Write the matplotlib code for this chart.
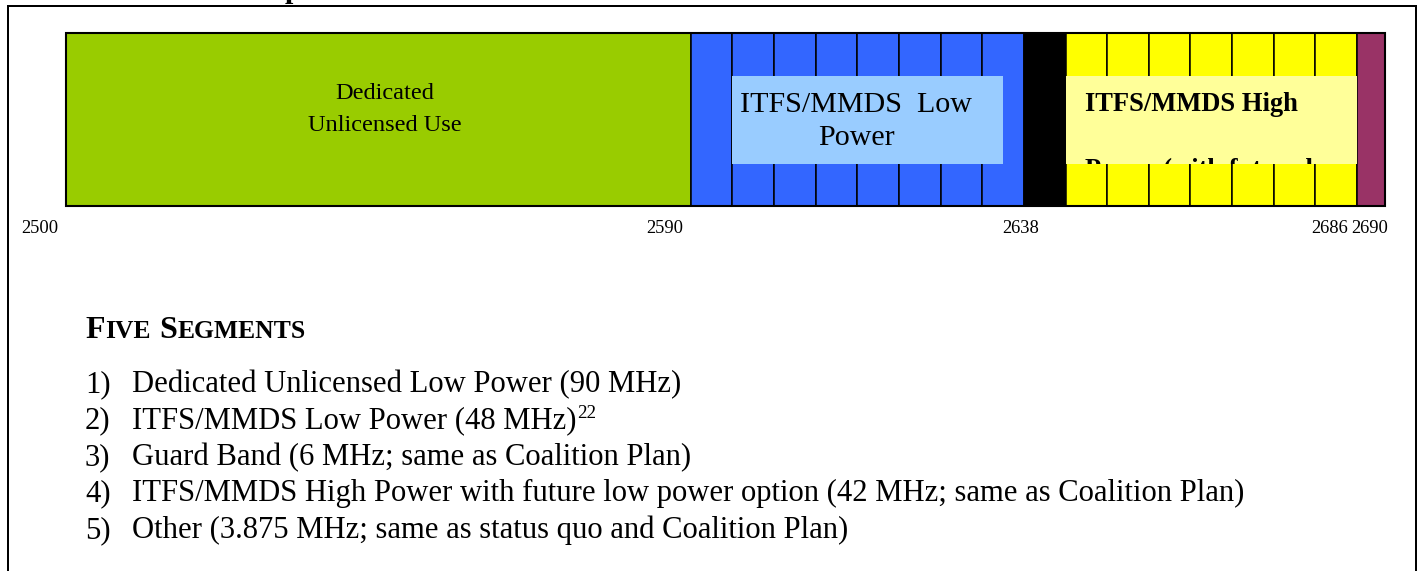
"""Band plan sketch: five spectrum segments between 2500 and 2690 MHz."""

import numpy as np
import matplotlib
matplotlib.use("Agg")
import matplotlib.pyplot as plt
from matplotlib.patches import Rectangle

W, H = 1424, 571
PT = 0.72  # points per pixel at dpi 100

# Band plan (MHz)
band_edges = [2500, 2590, 2638, 2644, 2686, 2690]
band_colors = ['#99cc00', '#3366ff', '#000000', '#ffff00', '#993366']
channel_mhz = [0, 6, 0, 6, 0]  # 0 = no channel raster drawn

tick_values = [2500, 2590, 2638, 2686, 2690]
tick_shift_px = [-26, -26, -3, -27, -15]

green_label = ['Dedicated', 'Unlicensed Use']
low_label = ['ITFS/MMDS  Low', 'Power']
low_box = (2596, 2635)
high_label = ['ITFS/MMDS High', 'Power (with future low power)']
high_box = (2644, 2686)

heading = [('F', True), ('IVE', False), ('S', True), ('EGMENTS', False)]
items = [
    'Dedicated Unlicensed Low Power (90 MHz)',
    'ITFS/MMDS Low Power (48 MHz)',
    'Guard Band (6 MHz; same as Coalition Plan)',
    'ITFS/MMDS High Power with future low power option (42 MHz; same as Coalition Plan)',
    'Other (3.875 MHz; same as status quo and Coalition Plan)',
]
footnotes = {1: '22'}

plt.rcParams['font.family'] = ['Liberation Serif', 'DejaVu Serif']

fig = plt.figure(figsize=(W / 100, H / 100), dpi=100)
fig.patch.set_facecolor('white')

# full-figure overlay in pixel units (y grows downwards)
page = fig.add_axes([0, 0, 1, 1])
page.set_xlim(0, W)
page.set_ylim(H, 0)
page.set_axis_off()

# band axes: frequency on x, 0..1 on y
bx0, bx1, by0, by1 = 66, 1384.8, 33, 206
ax = fig.add_axes([bx0 / W, 1 - by1 / H, (bx1 - bx0) / W, (by1 - by0) / H])
ax.set_xlim(band_edges[0], band_edges[-1])
ax.set_ylim(0, 1)
ax.set_axis_off()
mhz_px = (bx1 - bx0) / (band_edges[-1] - band_edges[0])

for lo, hi, col, ch in zip(band_edges[:-1], band_edges[1:], band_colors, channel_mhz):
    if ch:
        starts = np.arange(lo, hi, ch)
        ax.bar(starts, 1, width=ch, align='edge', color=col,
               edgecolor='black', linewidth=1.1, zorder=1)
    else:
        ax.bar(lo, 1, width=hi - lo, align='edge', color=col,
               edgecolor='black', linewidth=1.1, zorder=1)
ax.add_patch(Rectangle((band_edges[0], 0), band_edges[-1] - band_edges[0], 1,
                       fill=False, edgecolor='black', linewidth=1.5,
                       clip_on=False, zorder=3))


def frac(ypx):
    return (by1 - ypx) / (by1 - by0)


def freq(xpx):
    return band_edges[0] + (xpx - bx0) / mhz_px


# segment labels
ax.text(freq(385), frac(99), green_label[0], ha='center', va='baseline',
        fontsize=24.4 * PT, zorder=4)
ax.text(freq(385), frac(131), green_label[1], ha='center', va='baseline',
        fontsize=24.4 * PT, zorder=4)

ax.add_patch(Rectangle((low_box[0], frac(164)), low_box[1] - low_box[0],
                       frac(76) - frac(164), facecolor='#99ccff',
                       edgecolor='none', zorder=2))
ax.text(freq(856), frac(111.7), low_label[0], ha='center', va='baseline',
        fontsize=30 * PT, zorder=4)
ax.text(freq(856), frac(145), low_label[1], ha='center', va='baseline',
        fontsize=30 * PT, zorder=4)

hbox = Rectangle((high_box[0], frac(164)), high_box[1] - high_box[0],
                 frac(76) - frac(164), facecolor='#ffff99',
                 edgecolor='none', zorder=2)
ax.add_patch(hbox)
ax.text(freq(1085), frac(110.7), high_label[0], ha='left',
        va='baseline', fontsize=26.5 * PT, fontweight='bold', zorder=4)
t2 = ax.text(freq(1085), frac(177), high_label[1], ha='left',
             va='baseline', fontsize=26.5 * PT, fontweight='bold', zorder=4,
             clip_on=True)
t2.set_clip_path(hbox)

# frequency labels under the band
for f, dx in zip(tick_values, tick_shift_px):
    ax.annotate(str(f), xy=(f, 0), xycoords='data',
                xytext=(dx * PT, -27 * PT), textcoords='offset points',
                ha='center', va='baseline', fontsize=18.5 * PT)

# outer frame (open at the bottom)
page.plot([8, 8, 1416, 1416], [H, 5.5, 5.5, H], color='black',
          linewidth=2 * PT, solid_joinstyle='miter')
# descender of the cut-off title above the frame
page.text(285, -2.5, 'p', fontsize=30 * PT, fontweight='bold',
          va='baseline', ha='left')

fig.canvas.draw()
renderer = fig.canvas.get_renderer()

# heading in small caps
x = 85
for i, (txt, big) in enumerate(heading):
    size = 32 if big else 25.6
    t = page.text(x, 338, txt, fontsize=size * PT, fontweight='bold',
                  va='baseline', ha='left')
    x += t.get_window_extent(renderer).width + 1
    if i == 1:
        x += 7

# numbered list
list_px = 30.6
for i, item in enumerate(items):
    y = 392 + i * 36.5
    page.text(85, y, f'{i + 1})', fontsize=list_px * PT, va='baseline',
              ha='left')
    t = page.text(132, y, item, fontsize=list_px * PT, va='baseline',
                  ha='left')
    if i in footnotes:
        w = t.get_window_extent(renderer).width
        page.text(132 + w + 1, y - 11, footnotes[i], fontsize=19 * PT,
                  va='baseline', ha='left')

fig.savefig('out.png', dpi=100)
